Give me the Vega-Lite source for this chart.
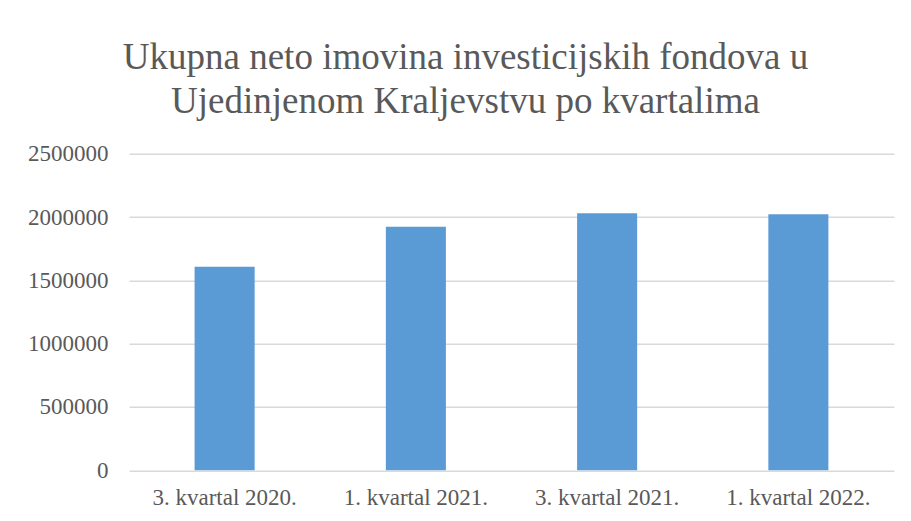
{
  "$schema": "https://vega.github.io/schema/vega-lite/v6.json",
  "width": 765,
  "height": 316.6,
  "autosize": {"type": "none"},
  "padding": {"left": 129, "top": 153.7, "right": 17, "bottom": 50.7},
  "background": "white",
  "title": {
    "text": ["Ukupna neto imovina investicijskih fondova u", "Ujedinjenom Kraljevstvu po kvartalima"],
    "font": "Liberation Serif",
    "fontSize": 37,
    "fontWeight": "normal",
    "color": "#595959",
    "anchor": "middle",
    "baseline": "bottom",
    "lineHeight": 44,
    "offset": -15,
    "dx": -46
  },
  "data": {
    "values": [
      {"kvartal": "3. kvartal 2020.", "vrijednost": 1607700},
      {"kvartal": "1. kvartal 2021.", "vrijednost": 1923500},
      {"kvartal": "3. kvartal 2021.", "vrijednost": 2029400},
      {"kvartal": "1. kvartal 2022.", "vrijednost": 2021500}
    ]
  },
  "mark": {"type": "bar", "color": "#5b9bd5"},
  "encoding": {
    "x": {
      "field": "kvartal",
      "type": "nominal",
      "sort": null,
      "scale": {"paddingInner": 0.686, "paddingOuter": 0.343},
      "axis": {
        "title": null,
        "labelAngle": 0,
        "labelFont": "Liberation Serif",
        "labelFontSize": 23,
        "labelColor": "#595959",
        "labelPadding": 16,
        "ticks": false,
        "domain": false,
        "grid": false
      }
    },
    "y": {
      "field": "vrijednost",
      "type": "quantitative",
      "scale": {"domain": [0, 2500000], "nice": false},
      "axis": {
        "title": null,
        "values": [0, 500000, 1000000, 1500000, 2000000, 2500000],
        "format": "d",
        "labelFont": "Liberation Serif",
        "labelFontSize": 23,
        "labelColor": "#595959",
        "labelPadding": 21,
        "ticks": false,
        "domain": false,
        "grid": true,
        "gridColor": "#d9d9d9",
        "gridWidth": 1.5
      }
    }
  },
  "config": {"view": {"stroke": null}}
}
